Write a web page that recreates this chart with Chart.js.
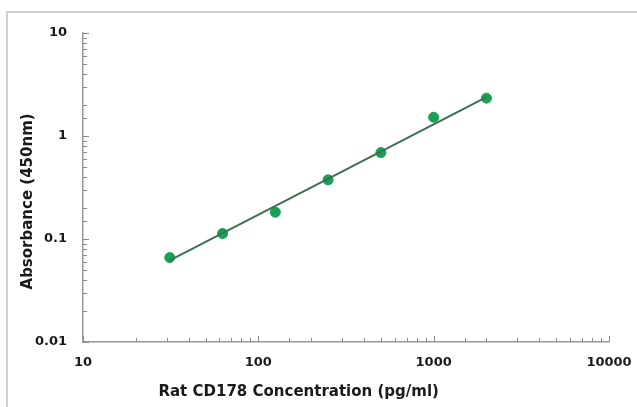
<!DOCTYPE html>
<html>
<head>
<meta charset="utf-8">
<script src="https://cdn.jsdelivr.net/npm/chart.js@4"></script>
<style>
  html, body { margin: 0; padding: 0; background: #fff; }
  #wrap { width: 637px; height: 407px; }
</style>
</head>
<body>
<div id="wrap"><canvas id="myChart" width="637" height="407"></canvas></div>
<script>
// concentraciones (pg/ml) y absorbancias
var concentracion = [31.25, 62.5, 125, 250, 500, 1000, 2000];
var absorbancia = [0.066, 0.113, 0.182, 0.375, 0.69, 1.52, 2.33];

// recta de ajuste (extremos)
var ajusteX = [31.25, 2000];
var ajusteY = [0.062, 2.38];

var ticksX = [10, 100, 1000, 10000];
var ticksY = [0.01, 0.1, 1, 10];

var tituloX = 'Rat CD178 Concentration (pg/ml)';
var tituloY = 'Absorbance (450nm)';

var familia = 'DejaVu Sans, Liberation Sans, Arial, sans-serif';
var fuente = { family: familia, size: 13, weight: 'bold' };

function esPotencia(v, lista) {
    return lista.some(function(t) { return Math.abs(v - t) / t < 1e-6; });
}

// marco gris, marcas hacia dentro y titulos de ejes (desplazados como en el original)
var marcasPlugin = {
    id: 'marcas',
    beforeDraw: function(chart) {
        var c = chart.ctx;
        c.save();
        c.fillStyle = '#fff';
        c.fillRect(0, 0, chart.width, chart.height);
        c.strokeStyle = '#cfcfcf';
        c.lineWidth = 2;
        c.beginPath();
        c.moveTo(7, chart.height);
        c.lineTo(7, 12);
        c.lineTo(chart.width, 12);
        c.stroke();
        c.restore();
    },
    afterDraw: function(chart) {
        var c = chart.ctx;
        var sx = chart.scales.x, sy = chart.scales.y;
        var a = chart.chartArea;
        c.save();
        c.strokeStyle = '#8a8a8a';
        c.lineWidth = 1;
        c.beginPath();
        sx.ticks.forEach(function(t) {
            var px = Math.round(sx.getPixelForValue(t.value)) + 0.5;
            var len = esPotencia(t.value, ticksX) ? 6 : 4;
            c.moveTo(px, a.bottom);
            c.lineTo(px, a.bottom - len);
        });
        sy.ticks.forEach(function(t) {
            var py = Math.round(sy.getPixelForValue(t.value)) + 0.5;
            var len = esPotencia(t.value, ticksY) ? 6 : 4;
            c.moveTo(a.left, py);
            c.lineTo(a.left + len, py);
        });
        c.stroke();

        c.fillStyle = '#1a1a1a';
        c.font = 'bold 15px ' + familia;
        c.textAlign = 'center';
        c.textBaseline = 'middle';
        c.fillText(tituloX, a.left + (a.right - a.left) * 0.41, a.bottom + 50);
        c.translate(28, a.top + (a.bottom - a.top) * 0.545);
        c.rotate(-Math.PI / 2);
        c.fillText(tituloY, 0, 0);
        c.restore();
    }
};

var ctx = document.getElementById('myChart').getContext('2d');
var myChart = new Chart(ctx, {
    type: 'scatter',
    data: {
        datasets: [
            {
                type: 'line',
                label: 'ajuste',
                data: ajusteX.map(function(x, i) { return { x: x, y: ajusteY[i] }; }),
                borderColor: '#3f6f52',
                borderWidth: 2,
                pointRadius: 0,
                fill: false
            },
            {
                label: 'puntos',
                data: concentracion.map(function(x, i) { return { x: x, y: absorbancia[i] }; }),
                backgroundColor: '#17a152',
                borderColor: '#17a152',
                pointRadius: 5,
                pointHoverRadius: 5
            }
        ]
    },
    options: {
        responsive: false,
        animation: false,
        devicePixelRatio: 1,
        layout: { padding: { left: 7, right: 28, top: 33, bottom: 0 } },
        plugins: { legend: { display: false }, tooltip: { enabled: false } },
        scales: {
            x: {
                type: 'logarithmic',
                min: 10,
                max: 10000,
                border: { display: true, color: '#9a9a9a', width: 1.5 },
                grid: { display: false, drawTicks: false },
                ticks: {
                    autoSkip: false,
                    maxRotation: 0,
                    padding: 13,
                    color: '#1a1a1a',
                    font: fuente,
                    callback: function(v) { return esPotencia(v, ticksX) ? String(v) : ''; }
                },
                afterFit: function(s) {
                    s.height = 65;
                    s.paddingLeft = 0;
                    s.paddingRight = 0;
                }
            },
            y: {
                type: 'logarithmic',
                min: 0.01,
                max: 10,
                border: { display: true, color: '#9a9a9a', width: 1.5 },
                grid: { display: false, drawTicks: false },
                ticks: {
                    autoSkip: false,
                    padding: 16,
                    color: '#1a1a1a',
                    font: fuente,
                    callback: function(v) { return esPotencia(v, ticksY) ? String(v) : ''; }
                },
                afterFit: function(s) {
                    s.width = 76;
                    s.paddingTop = 0;
                    s.paddingBottom = 0;
                }
            }
        }
    },
    plugins: [marcasPlugin]
});
</script>
</body>
</html>
